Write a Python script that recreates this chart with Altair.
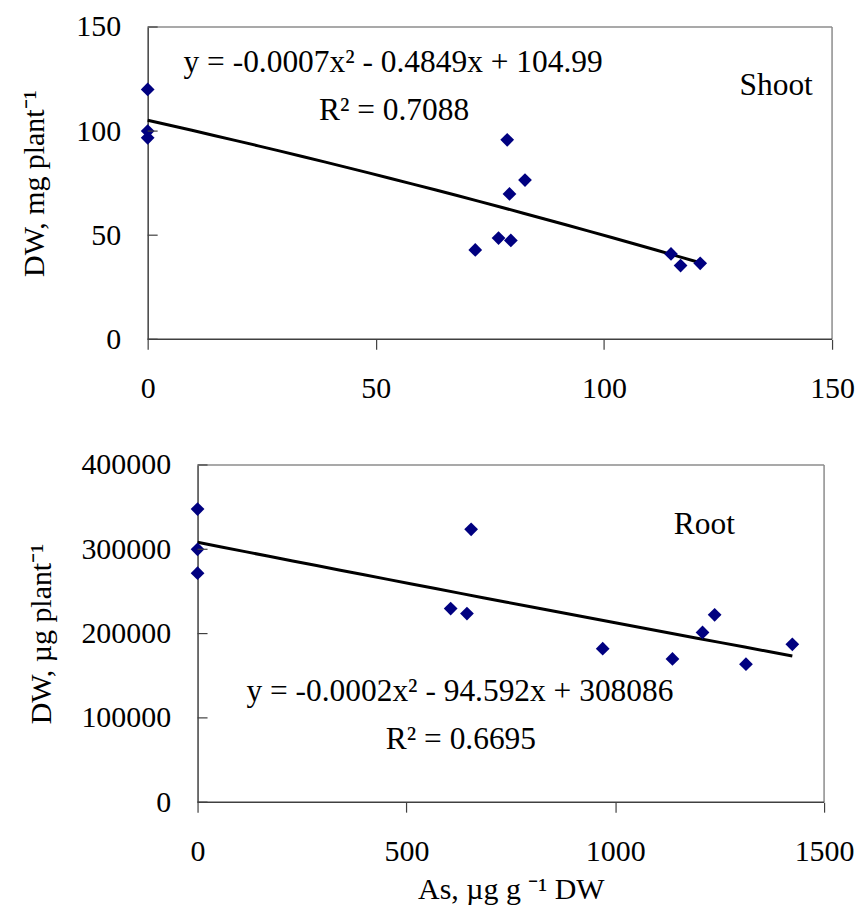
import altair as alt
import pandas as pd

# ---- data ----
shoot_as = [0, 0, 0, 78.8, 82.7, 79.3, 76.9, 79.6, 71.8, 114.7, 116.8, 121.1]
shoot_dw = [120.0, 100.0, 96.8, 95.8, 76.5, 69.8, 48.6, 47.5, 42.9, 41.0, 35.4, 36.5]

root_as = [0, 0, 0, 655, 606, 645, 970, 1137, 1209, 1238, 1313, 1424]
root_dw = [347700, 300000, 271700, 323700, 229700, 223800, 182100, 169900,
           201400, 222200, 163700, 187300]

shoot_x_ticks = [0, 50, 100, 150]
shoot_y_ticks = [0, 50, 100, 150]
root_x_ticks = [0, 500, 1000, 1500]
root_y_ticks = [0, 100000, 200000, 300000, 400000]

shoot_eq = "y = -0.0007x² - 0.4849x + 104.99"
shoot_r2 = "R² = 0.7088"
root_eq = "y = -0.0002x² - 94.592x + 308086"
root_r2 = "R² = 0.6695"

FONT = "Liberation Serif"
NAVY = "#000080"
FRAME = "#8c8c8c"
AXIS = "#404040"


def text_layer(label, px, py, size=31.5):
    return alt.Chart(pd.DataFrame({"label": [label]})).mark_text(
        font=FONT, fontSize=size, color="black", align="center", baseline="middle"
    ).encode(x=alt.value(px), y=alt.value(py), text="label:N")


def panel(xs, ys, xticks, yticks, ytitle, xtitle, w, h, shift,
          ytitle_pad, texts):
    """shift: empty pixels kept on the left of the frame inside the view."""
    df = pd.DataFrame({"As": xs, "DW": ys})
    x0, x1 = xticks[0], xticks[-1]
    y0, y1 = yticks[0], yticks[-1]
    xmin = x0 - (x1 - x0) * shift / w
    xscale = alt.Scale(domain=[xmin, x1], nice=False, zero=False)
    yscale = alt.Scale(domain=[y0, y1], nice=False, zero=False)
    xaxis_kw = dict(values=xticks, tickSize=10, labelPadding=24, labelFlush=False,
                    labelOverlap=False, format="d", titlePadding=9, grid=False,
                    domain=False, titleX=shift + w / 2)
    if xtitle is None:
        xaxis = alt.Axis(title=None, **xaxis_kw)
    else:
        xaxis = alt.Axis(title=xtitle, **xaxis_kw)
    yaxis = alt.Axis(title=ytitle, values=yticks, ticks=False, tickSize=0,
                     labelPadding=27, titlePadding=ytitle_pad, format="d",
                     labelOverlap=False, grid=False, offset=-shift)

    X = lambda f="As": alt.X(f + ":Q", scale=xscale, axis=xaxis)
    Y = lambda f="DW": alt.Y(f + ":Q", scale=yscale, axis=yaxis)

    # frame: top and right edges (grey), bottom axis line (dark)
    top_edge = alt.Chart(pd.DataFrame({"As": [x0], "As2": [x1], "DW": [y1]})).mark_rule(
        color=FRAME, strokeWidth=1.5).encode(x=X(), x2="As2:Q", y=Y())
    right_edge = alt.Chart(pd.DataFrame({"As": [x1], "DW": [y0], "DW2": [y1]})).mark_rule(
        color=FRAME, strokeWidth=1.5).encode(x=X(), y=Y(), y2="DW2:Q")
    bottom_edge = alt.Chart(pd.DataFrame({"As": [x0], "As2": [x1], "DW": [y0]})).mark_rule(
        color=AXIS, strokeWidth=1.5).encode(x=X(), x2="As2:Q", y=Y())

    line = alt.Chart(df).transform_regression(
        "As", "DW", method="poly", order=2
    ).mark_line(color="black", strokeWidth=3).encode(x=X(), y=Y())
    pts = alt.Chart(df).mark_point(
        shape="diamond", filled=True, size=190, color=NAVY, opacity=1
    ).encode(x=X(), y=Y())
    yt = alt.Chart(pd.DataFrame({"DW": yticks})).mark_rule(
        color=AXIS, strokeWidth=1.2
    ).encode(y=Y(), x=alt.value(shift), x2=alt.value(shift + 10))

    layers = [top_edge, right_edge, bottom_edge, line, pts, yt] + [
        text_layer(t, px + shift, py) for (t, px, py) in texts
    ]
    return alt.layer(*layers).properties(
        width=w + shift, height=h, view=alt.ViewBackground(stroke=None)
    )


top = panel(shoot_as, shoot_dw, shoot_x_ticks, shoot_y_ticks,
            "DW, mg plant⁻¹", None, 686, 313, 0, 26,
            [(shoot_eq, 246, 36), (shoot_r2, 247, 84), ("Shoot", 630, 59)])

bottom = panel(root_as, root_dw, root_x_ticks, root_y_ticks,
               "DW, µg plant⁻¹", "As, µg g ⁻¹ DW", 628, 338, 50, 24,
               [(root_eq, 263, 228), (root_r2, 264, 276), ("Root", 508, 60)])

chart = alt.vconcat(top, bottom, spacing=47).properties(
    padding={"left": 12, "top": 3, "right": 0, "bottom": 0},
    background="white",
).configure_view(
    stroke=None
).configure_axis(
    grid=False,
    domainColor=AXIS, domainWidth=1.5,
    tickColor=AXIS, tickWidth=1.2,
    labelFont=FONT, labelFontSize=30, labelColor="black",
    titleFont=FONT, titleFontSize=30, titleColor="black", titleFontWeight="normal",
)

chart.save("out.html", embed_options={"renderer": "svg", "actions": False})
